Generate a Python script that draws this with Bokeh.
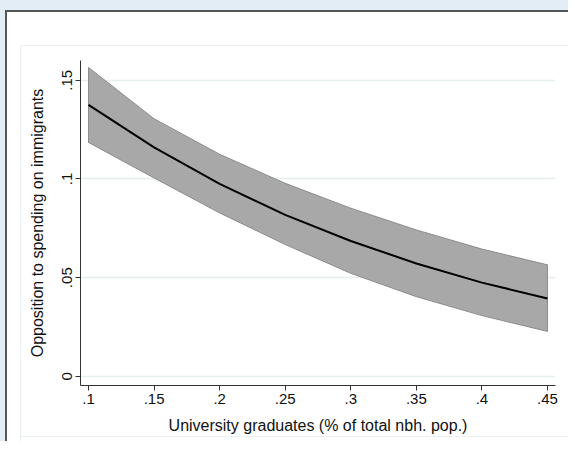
from bokeh.plotting import figure
from bokeh.models import FixedTicker, Range1d
from bokeh.embed import file_html
from bokeh.resources import INLINE

# Data
x_vals = [0.10, 0.15, 0.20, 0.25, 0.30, 0.35, 0.40, 0.45]
pred = [0.1375, 0.1160, 0.0975, 0.0818, 0.0686, 0.0572, 0.0475, 0.0395]
upper = [0.1565, 0.1305, 0.1125, 0.0978, 0.0852, 0.0742, 0.0645, 0.0565]
lower = [0.1185, 0.1005, 0.0828, 0.0668, 0.0522, 0.0404, 0.0308, 0.0228]

x_tick_vals = [0.10, 0.15, 0.20, 0.25, 0.30, 0.35, 0.40, 0.45]
x_tick_labels = [".1", ".15", ".2", ".25", ".3", ".35", ".4", ".45"]
y_tick_vals = [0.0, 0.05, 0.10, 0.15]
y_tick_labels = ["0", ".05", ".1", ".15"]

x_title = "University graduates (% of total nbh. pop.)"
y_title = "Opposition to spending on immigrants"

FONT = "Liberation Sans"

p = figure(
    width=568, height=441,
    frame_width=475, frame_height=325,
    min_border_left=80, min_border_top=60, min_border_right=13, min_border_bottom=56,
    x_range=Range1d(0.0939, 0.4561), y_range=Range1d(-0.0046, 0.160),
    output_backend="svg", toolbar_location=None,
    background_fill_color="white", border_fill_color="white",
)
p.border_fill_alpha = 0
p.outline_line_color = None

# Decorative page frame behind the transparent border area
p.styles = {
    "background": (
        "linear-gradient(#555,#555) 6px 10px / 100% 2px no-repeat,"
        "linear-gradient(#555,#555) 5px 10px / 2px 100% no-repeat,"
        "linear-gradient(#eaf1f2,#eaf1f2) 20px 45px / 550px 1px no-repeat,"
        "linear-gradient(#eaf1f2,#eaf1f2) 20px 45px / 1px 400px no-repeat,"
        "linear-gradient(#eaf1f2,#eaf1f2) 20px 436px / 548px 1px no-repeat,"
        "linear-gradient(#e2edf5,#e2edf5) 0 0 / 100% 10px no-repeat,"
        "linear-gradient(#e2edf5,#e2edf5) 0 0 / 5px 100% no-repeat,"
        "white"
    )
}

# Confidence band
poly_x = x_vals + x_vals[::-1]
poly_y = upper + lower[::-1]
p.patch(poly_x, poly_y, fill_color="#a8a8a8", line_color="#8c8c8c", line_width=1)
# Prediction line
p.line(x_vals, pred, line_color="black", line_width=2)

# Axes
p.xaxis.ticker = FixedTicker(ticks=x_tick_vals)
p.yaxis.ticker = FixedTicker(ticks=y_tick_vals)
p.xaxis.major_label_overrides = {v: l for v, l in zip(x_tick_vals, x_tick_labels)}
p.yaxis.major_label_overrides = {v: l for v, l in zip(y_tick_vals, y_tick_labels)}
p.yaxis.major_label_orientation = "vertical"

for ax in (p.xaxis[0], p.yaxis[0]):
    ax.axis_line_color = "#333333"
    ax.axis_line_width = 1
    ax.major_tick_line_color = "#333333"
    ax.major_tick_out = 5
    ax.major_tick_in = 0
    ax.minor_tick_line_color = None
    ax.major_label_text_font = FONT
    ax.major_label_text_font_size = "15px"
    ax.major_label_text_color = "#111111"
    ax.axis_label_text_font = FONT
    ax.axis_label_text_font_size = "16px"
    ax.axis_label_text_font_style = "normal"
    ax.axis_label_text_color = "#111111"
    ax.major_label_standoff = 3

p.xaxis.axis_label = x_title
p.yaxis.axis_label = y_title
p.xaxis.axis_label_standoff = 10
p.yaxis.axis_label_standoff = 14

p.xgrid.grid_line_color = None
p.ygrid.ticker = FixedTicker(ticks=y_tick_vals)
p.ygrid.grid_line_color = "#e6eff0"
p.ygrid.grid_line_width = 1.5

open("out.html", "w").write(file_html(p, INLINE))
